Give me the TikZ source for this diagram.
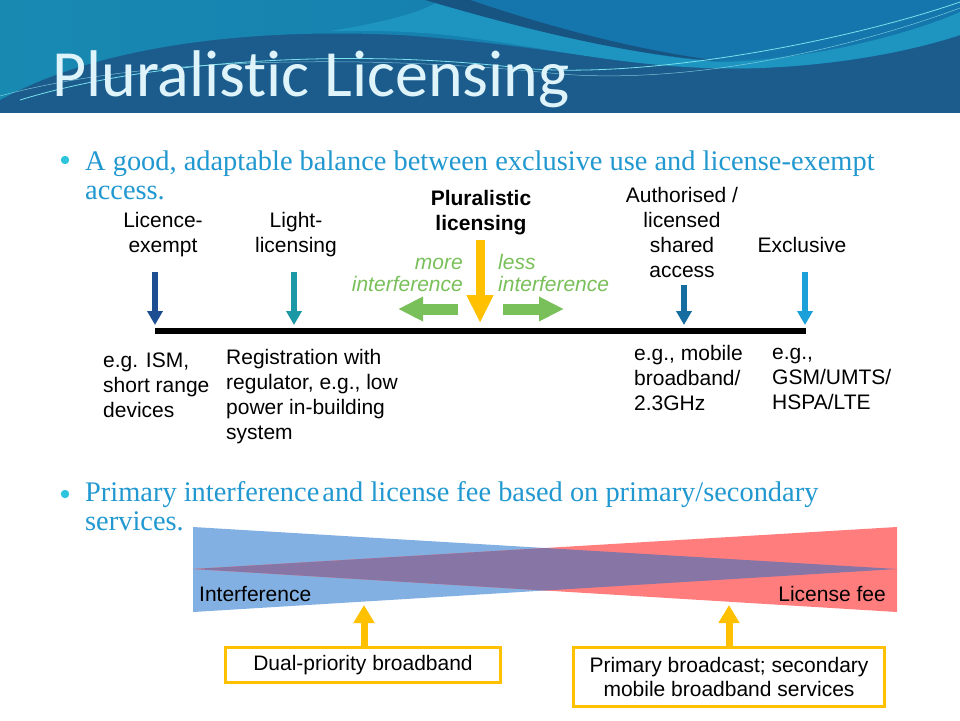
\documentclass[tikz,border=0pt]{standalone}
\usepackage{fontspec}
\setmainfont{Liberation Sans}
\newfontfamily\bodyserif{Liberation Serif}
\newfontfamily\titlefont[RawFeature={-liga;-clig;-dlig}]{Carlito}
\usetikzlibrary{arrows.meta}
\definecolor{bullettext}{RGB}{33,152,208}
\definecolor{bulletdot}{RGB}{45,196,222}
\definecolor{amber}{RGB}{255,192,0}
\definecolor{grn}{RGB}{122,192,90}
\definecolor{arrA}{RGB}{28,78,145}
\definecolor{arrB}{RGB}{26,152,165}
\definecolor{arrC}{RGB}{22,110,160}
\definecolor{arrD}{RGB}{28,160,218}
\definecolor{triblue}{RGB}{130,176,226}
\definecolor{trired}{RGB}{255,125,125}
\definecolor{tripurple}{RGB}{135,118,165}
\definecolor{hdark}{RGB}{27,92,141}
\definecolor{hband}{RGB}{30,148,192}
\definecolor{htealL}{RGB}{24,138,178}
\definecolor{htealR}{RGB}{20,118,172}
\definecolor{hswoosh}{RGB}{24,84,130}
\definecolor{hline}{RGB}{120,225,235}
\definecolor{titlecol}{RGB}{222,244,250}
\tikzset{
  lbl/.style={font=\fontsize{21}{25}\selectfont, align=center, inner sep=0pt},
  lbll/.style={font=\fontsize{21}{25}\selectfont, align=left, inner sep=0pt},
  grnlbl/.style={font=\fontsize{21}{22}\selectfont\itshape, text=grn, inner sep=0pt},
  bul/.style={font=\bodyserif\fontsize{28.4}{29}\selectfont, text=bullettext, align=left, inner sep=0pt},
  thinarrow/.style={line width=5.5pt, -{Triangle[width=15pt,length=14pt]}},
  fatarrow/.style={line width=11pt, -{Triangle[width=23pt,length=25pt]}},
  uparrow/.style={line width=7pt, draw=amber, -{Triangle[width=20pt,length=18pt]}},
  fbox/.style={draw=amber, line width=3pt, fill=white, font=\fontsize{21}{24}\selectfont, align=center, inner sep=0pt},
}
\begin{document}
\begin{tikzpicture}[x=1pt,y=-1pt]
\useasboundingbox (0,0) rectangle (960,720);
\fill[white] (0,0) rectangle (960,720);
% ---------- header ----------
\fill[hdark] (0,0) rectangle (960,113);
\shade[left color=htealL, right color=htealR]
  (0,0) -- (960,0) -- (960,35) .. controls (930,45) and (860,64) .. (760,68)
  .. controls (650,72) and (550,45) .. (400,35) .. controls (250,28) and (100,45) .. (0,100) -- cycle;
\fill[hband] (440,0) .. controls (520,25) and (620,55) .. (720,62) .. controls (820,60) and (920,30) .. (960,12)
  -- (960,35) .. controls (930,45) and (860,64) .. (760,68) .. controls (650,72) and (560,50) .. (470,38)
  .. controls (430,32) and (380,30) .. (330,31) .. controls (400,20) and (430,8) .. (440,0) -- cycle;
\fill[htealR] (470,0) .. controls (540,22) and (630,52) .. (720,60) .. controls (820,58) and (920,28) .. (960,10) -- (960,0) -- cycle;
\fill[hswoosh] (425,0) .. controls (500,22) and (620,55) .. (720,61) .. controls (620,48) and (530,20) .. (470,0) -- cycle;
\draw[hline, line width=0.8pt] (20,100) .. controls (150,60) and (350,48) .. (520,68) .. controls (650,80) and (850,40) .. (960,2);
\draw[hline!70!white, line width=0.5pt, opacity=0.7] (0,96) .. controls (150,55) and (380,55) .. (560,74) .. controls (700,85) and (860,45) .. (960,8);
\node[anchor=base west, font=\titlefont\fontsize{66}{66}\selectfont, text=titlecol, inner sep=0pt] (title) at (52,96) {Pluralistic Licensing};
% ---------- bullets ----------
\fill[bulletdot] (65,160) circle (4.2);
\node[bul, anchor=base west] (b1) at (85,199) {A good, adaptable balance between exclusive use and license-exempt\\access.};
\fill[bulletdot] (65,494) circle (4.2);
\node[bul, anchor=base west] (b2) at (85,530) {Primary interference\hspace{3pt}and license fee based on primary/secondary\\services.};
% ---------- scale ----------
\coordinate (lineL) at (155,331);
\coordinate (lineR) at (806,331);
\draw[line width=6pt] (lineL) -- (lineR);
% top labels (base = last line)
\node[lbl, anchor=base] (lex) at (163,252) {Licence-\\exempt};
\node[lbl, anchor=base] (light) at (296,252) {Light-\\licensing};
\node[lbl, anchor=base, font=\fontsize{21}{25}\selectfont\bfseries] (plur) at (481,230) {Pluralistic\\licensing};
\node[lbl, anchor=base] (auth) at (682,277) {Authorised /\\licensed\\shared\\access};
\node[lbl, anchor=base] (excl) at (802,252) {Exclusive};
% arrows to the line
\coordinate (a1s) at (155,272); \coordinate (a1e) at (155,325);
\coordinate (a2s) at (294,272); \coordinate (a2e) at (294,325);
\coordinate (a3s) at (684,285); \coordinate (a3e) at (684,325);
\coordinate (a4s) at (805,272); \coordinate (a4e) at (805,325);
\draw[thinarrow, draw=arrA, fill=arrA] (a1s) -- (a1e);
\draw[thinarrow, draw=arrB, fill=arrB] (a2s) -- (a2e);
\draw[thinarrow, draw=arrC, fill=arrC] (a3s) -- (a3e);
\draw[thinarrow, draw=arrD, fill=arrD] (a4s) -- (a4e);
\coordinate (ps) at (480,240); \coordinate (pe) at (480,323);
\draw[line width=9pt, draw=amber, -{Triangle[width=25pt,length=28pt]}] (ps) -- (pe);
% green arrows
\coordinate (gls) at (458,309); \coordinate (gle) at (398,309);
\coordinate (grs) at (503,309); \coordinate (gre) at (564,309);
\draw[fatarrow, draw=grn] (gls) -- (gle);
\draw[fatarrow, draw=grn] (grs) -- (gre);
\node[grnlbl, anchor=base east, align=right] (more) at (463,291) {more\\interference};
\node[grnlbl, anchor=base west, align=left] (less) at (498,291) {less\\interference};
% bottom labels
\node[lbll, anchor=base west] (ism) at (103,417) {e.g. ISM,\\short range\\devices};
\node[lbll, anchor=base west] (reg) at (226,439) {Registration with\\regulator, e.g., low\\power in-building\\system};
\node[lbll, anchor=base west] (mob) at (634,410) {e.g., mobile\\broadband/\\2.3GHz};
\node[lbll, anchor=base west] (gsm) at (772,409) {e.g.,\\GSM/UMTS/\\HSPA/LTE};
% ---------- triangles ----------
\fill[triblue] (193,527) -- (193,612) -- (897,569) -- cycle;
\fill[trired] (897,527) -- (897,612) -- (193,569) -- cycle;
\fill[tripurple] (193,569) -- (545,548) -- (897,569) -- (545,590.5) -- cycle;
\node[anchor=base west, font=\fontsize{21}{25}\selectfont, inner sep=0pt] (intf) at (199,601) {Interference};
\node[anchor=base east, font=\fontsize{21}{25}\selectfont, inner sep=0pt] (fee) at (886,601) {License fee};
% boxes
\node[fbox, minimum width=275pt, minimum height=35pt, anchor=north west] (box1) at (224,646) {Dual-priority broadband};
\node[fbox, minimum width=311pt, minimum height=59pt, anchor=north west] (box2) at (572,646) {Primary broadcast; secondary\\mobile broadband services};
\coordinate (u1) at (364,605);
\coordinate (u2) at (729,605);
\draw[uparrow] (box1.north -| u1) -- (u1);
\draw[uparrow] (box2.north -| u2) -- (u2);
\end{tikzpicture}
\end{document}
